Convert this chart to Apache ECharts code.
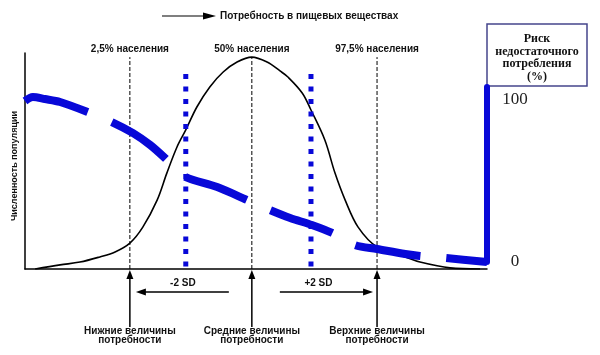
<!DOCTYPE html>
<html>
<head>
<meta charset="utf-8">
<script src="https://cdn.jsdelivr.net/npm/echarts@6/dist/echarts.min.js"></script>
<style>
html,body{margin:0;padding:0;background:#fff;}
#c{width:600px;height:355px;}
</style>
</head>
<body>
<div id="c"></div>
<script>
// ---- data (intake axis in arbitrary units 0..100) ----
const populationX = [2.2, 7.6, 11.9, 16.2, 19.5, 22.7, 25.5, 28.6, 30.7, 32.9, 34.8, 37.2, 40.0, 42.9, 45.9, 49.1, 52.4, 55.2, 56.9, 60.0, 61.9, 64.9, 67.1, 69.3, 72.1, 76.2, 82.3, 85.5, 92.0, 98.5];
const populationY = [0, 1.9, 3.2, 5.6, 7.9, 12.0, 19.4, 31.9, 44.4, 56.5, 64.4, 75.0, 84.3, 91.2, 95.8, 98.1, 95.8, 91.7, 88.9, 81.5, 73.6, 59.7, 44.4, 31.9, 19.4, 10.2, 5.6, 3.2, 0.5, 0];

const riskX = [0, 1.7, 4.3, 7.6, 13.6, 18.8, 23.4, 27.1, 30.3, 32.7, 34.8, 41.6, 48.1, 53.0, 57.4, 62.1, 66.5, 71.4, 76.2, 82.3, 85.5, 90.9, 100];
const riskY = [98.8, 101.2, 100.0, 98.2, 92.0, 85.9, 79.1, 71.8, 63.8, 57.1, 52.1, 46.0, 38.0, 31.9, 27.0, 22.7, 17.8, 10.4, 8.0, 4.9, 3.7, 2.5, 0];

const refPointsX = [22.7, 49.1, 76.2];           // 2.5%, 50%, 97.5% of population
const refLineTop = 98.1;
const refTopLabels = ['2,5% населения', '50% населения', '97,5% населения'];
const refBottomLabels = [['Нижние величины', 'потребности'], ['Средние величины', 'потребности'], ['Верхние величины', 'потребности']];
const sdMarkersX = [34.8, 61.9];
const sdMarkerTop = 90.3;
const sdLabels = ['-2 SD', '+2 SD'];
const riskTicks = [0, 100];
const titleText = 'Потребность в пищевых веществах';
const yName = 'Численность популяции';
const boxLines = ['Риск', 'недостаточного', 'потребления', '(%)'];

const BLUE = '#0808d8';
const SANS = '"Liberation Sans", Arial, sans-serif';
const SERIF = '"Liberation Serif", "Times New Roman", serif';

const chart = echarts.init(document.getElementById('c'));

const series = [];
refPointsX.forEach(x => {
  series.push({
    type: 'line', xAxisIndex: 0, yAxisIndex: 0, symbol: 'none', silent: true, z: 1,
    data: [[x, 0], [x, refLineTop]],
    lineStyle: { color: '#000', width: 1, type: [4, 2] }
  });
});
series.push({
  type: 'line', xAxisIndex: 0, yAxisIndex: 0, symbol: 'none', smooth: 0.35, z: 2,
  data: populationX.map((x, i) => [x, populationY[i]]),
  lineStyle: { color: '#000', width: 1.6 }
});
sdMarkersX.forEach(x => {
  series.push({
    type: 'line', xAxisIndex: 0, yAxisIndex: 0, symbol: 'none', silent: true, z: 3,
    data: [[x, sdMarkerTop], [x, 0]],
    lineStyle: { color: BLUE, width: 5, type: [5, 7.5], cap: 'butt' }
  });
});
series.push({
  type: 'line', xAxisIndex: 1, yAxisIndex: 1, symbol: 'none', smooth: 0.3, z: 4,
  data: riskX.map((x, i) => [x, riskY[i]]),
  lineStyle: { color: BLUE, width: 8, type: [66, 26], cap: 'butt' }
});

chart.setOption({
  animation: false,
  backgroundColor: '#fff',
  grid: [
    { left: 25, right: 113, top: 53, bottom: 86 },
    { left: 25, right: 113, top: 87, bottom: 93 }
  ],
  xAxis: [
    { gridIndex: 0, type: 'value', min: 0, max: 100,
      axisLine: { show: true, onZero: false, lineStyle: { color: '#000', width: 1.5 } },
      axisTick: { show: false }, axisLabel: { show: false }, splitLine: { show: false } },
    { gridIndex: 1, type: 'value', min: 0, max: 100, show: false }
  ],
  yAxis: [
    { gridIndex: 0, type: 'value', min: 0, max: 100,
      axisLine: { show: true, onZero: false, lineStyle: { color: '#000', width: 1.5 } },
      axisTick: { show: false }, axisLabel: { show: false }, splitLine: { show: false },
      name: yName, nameLocation: 'middle', nameGap: 6, nameRotate: 90,
      nameTextStyle: { fontFamily: SANS, fontWeight: 'bold', fontSize: 9, color: '#111', padding: [0, 10, 0, 0] } },
    { gridIndex: 1, type: 'value', position: 'right', min: 0, max: 107.4, interval: 100,
      axisLine: { show: true, onZero: false, lineStyle: { color: BLUE, width: 6 } },
      axisTick: { show: false }, splitLine: { show: false },
      axisLabel: { formatter: v => riskTicks.includes(v) ? String(v) : '',
        fontFamily: SERIF, fontSize: 17, color: '#222', align: 'center', margin: 28 } }
  ],
  series: series
});

// ---- annotations positioned through the chart's own x scale ----
const px = v => chart.convertToPixel({ gridIndex: 0 }, [v, 0])[0];
const g = [];
const txt = (x, y, text, font, align) => ({
  type: 'text', x: x, y: y, silent: true,
  style: { text: text, font: font, fill: '#111', align: align || 'center', verticalAlign: 'middle' }
});
const lineEl = (x1, y1, x2, y2, w) => ({ type: 'line', silent: true, shape: { x1, y1, x2, y2 }, style: { stroke: '#000', lineWidth: w || 1.3 } });
const tri = pts => ({ type: 'polygon', silent: true, shape: { points: pts }, style: { fill: '#000' } });

// title arrow + title
g.push(lineEl(162, 16, 206, 16, 1.2));
g.push(tri([[203, 12.5], [216, 16], [203, 19.5]]));
g.push(txt(220, 16, titleText, 'bold 10px ' + SANS, 'left'));

const refPx = refPointsX.map(px);
refPx.forEach((x, i) => {
  g.push(txt(x, 49, refTopLabels[i], 'bold 10px ' + SANS));
  g.push(lineEl(x, 327, x, 277, 1.5));
  g.push(tri([[x - 3.5, 279], [x, 270], [x + 3.5, 279]]));
  g.push(txt(x, 331, refBottomLabels[i][0], 'bold 10px ' + SANS));
  g.push(txt(x, 340, refBottomLabels[i][1], 'bold 10px ' + SANS));
});

// ±2 SD arrows
const lowX = refPx[0], meanX = refPx[1], upX = refPx[2];
g.push(lineEl(lowX + 14, 292, meanX - 23, 292, 1.3));
g.push(tri([[lowX + 16, 288.5], [lowX + 6, 292], [lowX + 16, 295.5]]));
g.push(txt((lowX + meanX) / 2 - 8, 283, sdLabels[0], 'bold 10px ' + SANS));
g.push(lineEl(meanX + 28, 292, upX - 12, 292, 1.3));
g.push(tri([[upX - 14, 288.5], [upX - 4, 292], [upX - 14, 295.5]]));
g.push(txt((meanX + upX) / 2 + 4, 283, sdLabels[1], 'bold 10px ' + SANS));

// legend box for the risk axis
g.push({ type: 'rect', silent: true, shape: { x: 487, y: 24, width: 100, height: 62 },
  style: { fill: '#fff', stroke: '#45458c', lineWidth: 1.5 } });
boxLines.forEach((t, i) => g.push(txt(537, 39 + i * 12.5, t, 'bold 12px ' + SERIF)));

chart.setOption({ graphic: g });
</script>
</body>
</html>
